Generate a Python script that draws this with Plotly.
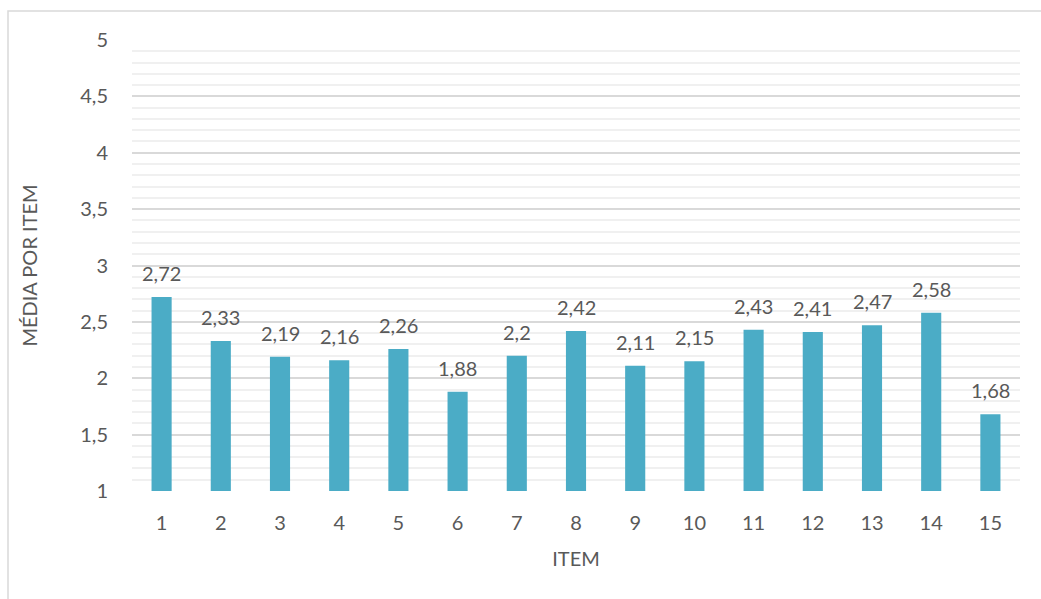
import plotly.graph_objects as go

items = list(range(1, 16))
values = [2.72, 2.33, 2.19, 2.16, 2.26, 1.88, 2.2, 2.42, 2.11, 2.15, 2.43, 2.41, 2.47, 2.58, 1.68]
labels = [f"{v:g}".replace(".", ",") for v in values]
yticks = [1, 1.5, 2, 2.5, 3, 3.5, 4, 4.5, 5]
yticklabels = [f"{v:g}".replace(".", ",") for v in yticks]

FONT = "Lato, Open Sans, sans-serif"
GREY = "#595959"
FS = 20

fig = go.Figure(go.Bar(
    x=items, y=[v - 1 for v in values], base=1, width=0.34,
    marker=dict(color="#4BACC6", line=dict(width=0)),
    hoverinfo="skip",
))

for it, v, lab in zip(items, values, labels):
    fig.add_annotation(x=it, y=v, text=lab, showarrow=False,
                       yanchor="bottom", yshift=10,
                       font=dict(size=FS, color=GREY, family=FONT))

fig.update_layout(
    width=1041, height=599,
    margin=dict(l=132, r=21, t=40, b=108),
    paper_bgcolor="white", plot_bgcolor="white",
    showlegend=False,
    font=dict(family=FONT, color=GREY, size=FS),
    xaxis=dict(
        range=[0.5, 15.5], tickvals=items, ticktext=[str(i) for i in items],
        showgrid=False, zeroline=False,
        showline=False, ticks="", tickfont=dict(size=FS, color=GREY),
        ticklabelstandoff=18,
        title=dict(text="ITEM", font=dict(size=FS, color=GREY), standoff=18),
    ),
    yaxis=dict(
        range=[1, 5], tickvals=yticks, ticktext=yticklabels,
        showgrid=True, gridcolor="#D9D9D9", gridwidth=1.5,
        minor=dict(dtick=0.1, showgrid=True, gridcolor="#F0F0F0", gridwidth=1.5),
        zeroline=False, showline=False, ticks="",
        tickfont=dict(size=FS, color=GREY), ticklabelstandoff=23,
        title=dict(text="MÉDIA POR ITEM", font=dict(size=FS, color=GREY), standoff=37),
    ),
    shapes=[dict(type="rect", xref="paper", yref="paper",
                 x0=(8 - 132) / 888, x1=(1050 - 132) / 888,
                 y0=-0.5, y1=(491 - 11) / 451,
                 line=dict(color="#D9D9D9", width=1.5), layer="below")],
)

fig.write_html("out.html")
